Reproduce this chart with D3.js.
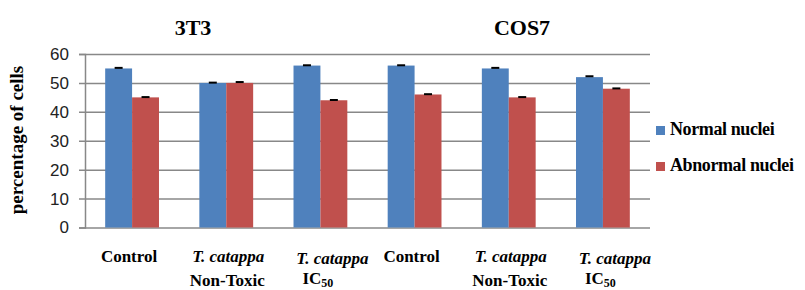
<!DOCTYPE html>
<html>
<head>
<meta charset="utf-8">
<script src="https://cdn.jsdelivr.net/npm/d3@7"></script>
<style>
  body { margin: 0; background: #fff; }
</style>
</head>
<body>
<div id="vis"></div>
<script>
// datos
const categorias = ["3T3 Control", "3T3 Non-Toxic", "3T3 IC50", "COS7 Control", "COS7 Non-Toxic", "COS7 IC50"];
const normal = [55, 50, 56, 56, 55, 52];
const anormal = [45, 50, 44, 46, 45, 48];
const errNormal = [0.2, 0.1, 0.1, 0.1, 0.2, 0.3];
const errAnormal = [0.1, 0.3, 0.1, 0.1, 0.1, 0.1];
const ticksY = [0, 10, 20, 30, 40, 50, 60];
const series = ["Normal nuclei", "Abnormal nuclei"];
const colores = ["#4F81BD", "#C0504D"];
const titulos = ["3T3", "COS7"];

const WIDTH = 805;
const HEIGHT = 290;
const margins = [85, 155, 54, 62]; // izquierda, derecha, arriba, abajo
const SERIF = "'Liberation Serif', 'Times New Roman', serif";

const SVG = d3.select("#vis").append("svg").attr("width", WIDTH).attr("height", HEIGHT)
    .attr("font-family", SERIF).attr("font-weight", "bold");

let x0 = d3.scaleBand()
    .domain(categorias)
    .range([margins[0], WIDTH - margins[1]]);

let x1 = d3.scaleBand()
    .domain(series)
    .range([0, x0.bandwidth()])
    .paddingOuter(0.75);

let y = d3.scaleLinear()
    .domain([0, 60])
    .range([HEIGHT - margins[3] - 0.5, margins[2]]);

// lineas de grilla
let ejeY = d3.axisLeft(y).tickValues(ticksY).tickSize(6).tickPadding(10);
let gY = SVG.append("g")
    .attr("id", "ejeY")
    .attr("transform", `translate(${margins[0]},0)`)
    .call(ejeY);
gY.select(".domain").attr("stroke", "#888").attr("stroke-width", 1.5);
gY.selectAll(".tick line")
    .attr("x1", WIDTH - margins[1] - margins[0])
    .attr("stroke", "#888")
    .attr("stroke-width", 1.5);
gY.attr("font-family", "'Liberation Sans', Arial, sans-serif")
    .attr("font-weight", "normal")
    .attr("font-size", 17);
gY.selectAll(".tick text").attr("fill", "#222");

// barras
let datos = categorias.map((c, i) => ({
    cat: c,
    valores: [
        { s: series[0], v: normal[i], e: errNormal[i] },
        { s: series[1], v: anormal[i], e: errAnormal[i] }
    ]
}));

let grupos = SVG.append("g").attr("id", "barsG")
    .selectAll("g")
    .data(datos)
    .join("g")
    .attr("transform", d => `translate(${x0(d.cat)},0)`);

grupos.selectAll("rect")
    .data(d => d.valores)
    .join("rect")
    .attr("x", d => x1(d.s))
    .attr("y", d => y(d.v))
    .attr("width", x1.bandwidth())
    .attr("height", d => y(0) - y(d.v))
    .attr("fill", (d, i) => colores[i]);

// barras de error
grupos.selectAll("line.err")
    .data(d => d.valores)
    .join("line")
    .attr("class", "err")
    .attr("x1", d => x1(d.s) + x1.bandwidth() / 2 - 4)
    .attr("x2", d => x1(d.s) + x1.bandwidth() / 2 + 4)
    .attr("y1", d => y(d.v + d.e))
    .attr("y2", d => y(d.v + d.e))
    .attr("stroke", "#000")
    .attr("stroke-width", 2);

// etiquetas del eje x
let etiquetas = SVG.append("g").attr("id", "ejeX").attr("font-size", 17);
categorias.forEach((c, i) => {
    let cx = x0(c) + x0.bandwidth() / 2;
    let tipo = c.split(" ")[1];
    let g = etiquetas.append("g");
    if (tipo === "Control") {
        g.append("text").attr("x", cx - 3).attr("y", 262).attr("text-anchor", "middle").text("Control");
    } else if (tipo === "Non-Toxic") {
        g.append("text").attr("x", cx + 2).attr("y", 262).attr("text-anchor", "middle")
            .attr("font-style", "italic").text("T. catappa");
        g.append("text").attr("x", cx + 1).attr("y", 286).attr("text-anchor", "middle").text("Non-Toxic");
    } else {
        g.append("text").attr("x", cx + 12).attr("y", 264).attr("text-anchor", "middle")
            .attr("font-style", "italic").text("T. catappa");
        let t = g.append("text").attr("x", cx - 18).attr("y", 284);
        t.append("tspan").text("IC");
        t.append("tspan").attr("font-size", 12).attr("dy", 3).text("50");
    }
});

// titulos
SVG.selectAll("text.titulo")
    .data(titulos)
    .join("text")
    .attr("class", "titulo")
    .attr("x", (d, i) => i === 0 ? 193 : 522)
    .attr("y", 35)
    .attr("text-anchor", "middle")
    .attr("font-size", 22)
    .text(d => d);

// titulo eje y
SVG.append("text")
    .attr("transform", "translate(23,140) rotate(-90)")
    .attr("text-anchor", "middle")
    .attr("font-size", 19)
    .text("percentage of cells");

// leyenda
let leyenda = SVG.append("g").attr("id", "leyenda");
series.forEach((s, i) => {
    let yy = 126 + i * 36;
    leyenda.append("rect").attr("x", 656).attr("y", yy).attr("width", 9).attr("height", 9).attr("fill", colores[i]);
    leyenda.append("text").attr("x", 670).attr("y", yy + 9).attr("font-size", 18)
        .attr("letter-spacing", -0.4).text(s);
});
</script>
</body>
</html>
